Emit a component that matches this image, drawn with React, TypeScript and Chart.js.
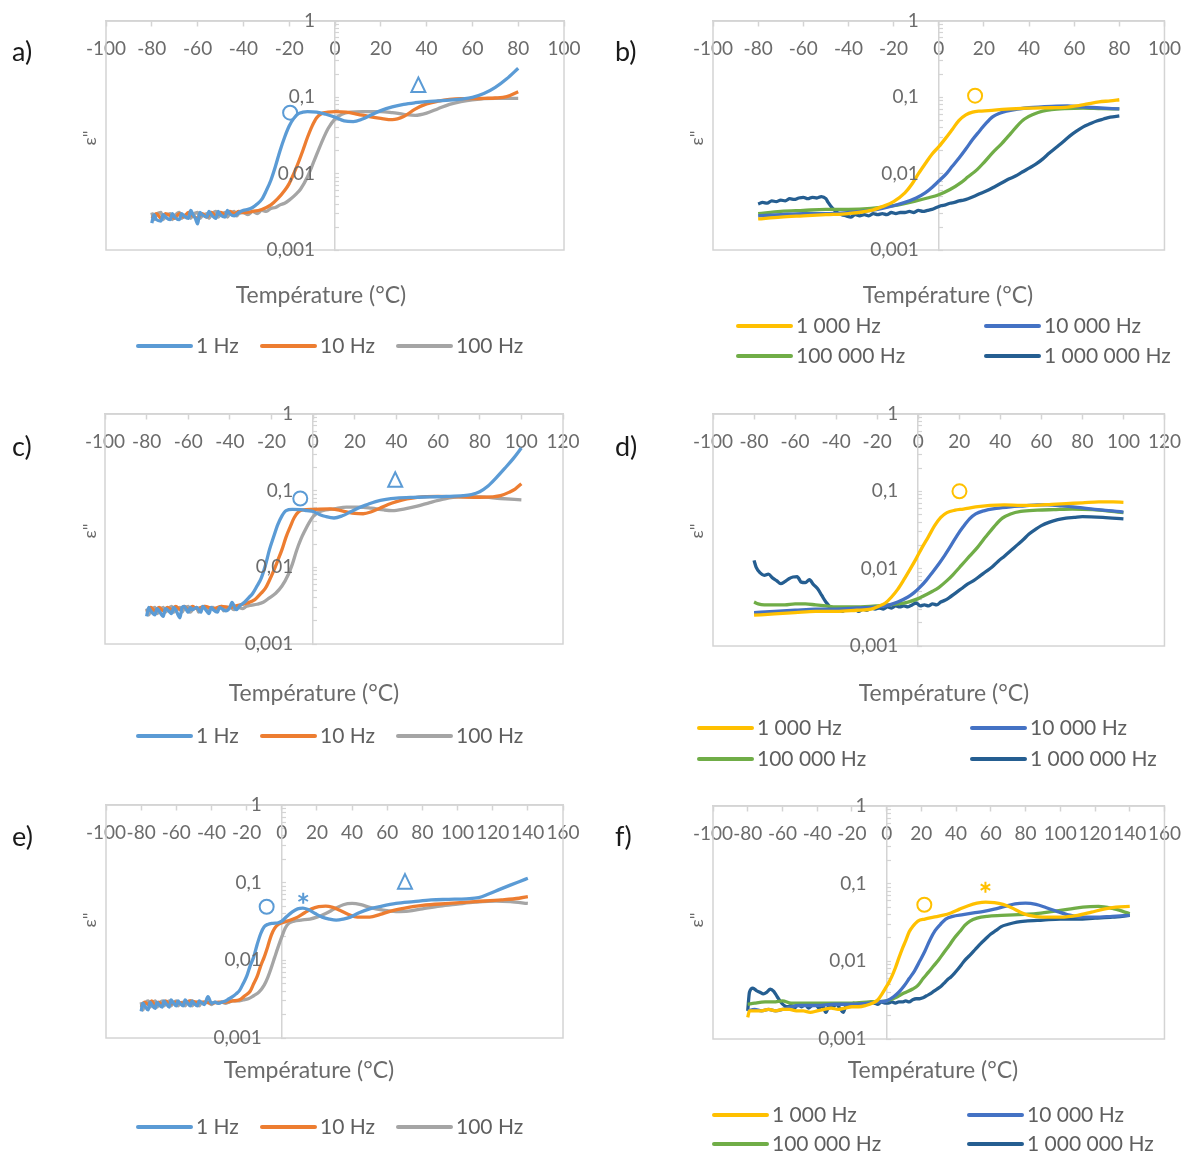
import React, { useEffect, useRef } from 'react';
import { Chart, registerables } from 'chart.js';

Chart.register(...registerables);
Chart.defaults.font.family = 'Lato';

type Pt = [number, number];

// ---------- tick labels ----------
const xLabels100 = ['-100', '-80', '-60', '-40', '-20', '0', '20', '40', '60', '80', '100'];
const xLabels120 = ['-100', '-80', '-60', '-40', '-20', '0', '20', '40', '60', '80', '100', '120'];
const xLabels160 = ['-100', '-80', '-60', '-40', '-20', '0', '20', '40', '60', '80', '100', '120', '140', '160'];
const yLabelValues = [1, 0.1, 0.01, 0.001];
const yLabelTexts = ['1', '0,1', '0,01', '0,001'];
const yDecades = [0.001, 0.01, 0.1];
const yMantissas = [1, 2, 3, 4, 5, 6, 7, 8, 9];

const lowLabels = ['1 Hz', '10 Hz', '100 Hz'];
const highLabels = ['1 000 Hz', '10 000 Hz', '100 000 Hz', '1 000 000 Hz'];

// ---------- panel a ----------
const a1Hz: Pt[] = [[-80,0.00225],[-79,0.0029],[-78,0.0025],[-76,0.0024],[-75,0.0029],[-74,0.0027],[-72,0.0025],[-71,0.0030],[-70,0.0027],[-68,0.0025],[-67,0.0030],[-66,0.0028],[-64,0.0026],[-63,0.0033],[-62,0.0029],[-61,0.0026],[-60,0.0022],[-59,0.0031],[-58,0.0029],[-56,0.0027],[-55,0.0032],[-54,0.0029],[-52,0.0026],[-51,0.0032],[-50,0.0029],[-48,0.0027],[-47,0.0033],[-46,0.0030],[-44,0.0028],[-42,0.0031],[-40,0.0033],[-38,0.0034],[-36,0.0036],[-34,0.0040],[-32,0.0046],[-30,0.0060],[-28,0.0082],[-26,0.0125],[-24,0.020],[-22,0.030],[-20,0.042],[-18,0.053],[-16,0.061],[-14,0.064],[-12,0.065],[-8,0.064],[-4,0.060],[0,0.055],[4,0.049],[8,0.048],[12,0.052],[16,0.059],[20,0.067],[25,0.075],[30,0.081],[35,0.085],[40,0.088],[45,0.090],[50,0.092],[55,0.095],[60,0.100],[65,0.112],[70,0.135],[75,0.175],[80,0.24]];
const a10Hz: Pt[] = [[-80,0.0026],[-78,0.0030],[-76,0.0026],[-74,0.0030],[-72,0.0028],[-70,0.0026],[-68,0.0030],[-66,0.0027],[-64,0.0031],[-62,0.0028],[-60,0.0026],[-58,0.0030],[-56,0.0027],[-54,0.0031],[-52,0.0028],[-50,0.0031],[-48,0.0029],[-46,0.0032],[-44,0.0030],[-42,0.0032],[-40,0.0031],[-36,0.0032],[-32,0.0034],[-28,0.0039],[-25,0.0047],[-22,0.0060],[-20,0.0074],[-18,0.0100],[-16,0.0140],[-14,0.0203],[-12,0.030],[-10,0.042],[-8,0.054],[-6,0.061],[-3,0.064],[0,0.065],[5,0.064],[10,0.060],[15,0.056],[20,0.053],[25,0.051],[30,0.056],[35,0.070],[40,0.082],[45,0.089],[50,0.094],[55,0.096],[60,0.096],[65,0.097],[70,0.098],[75,0.102],[80,0.118]];
const a100Hz: Pt[] = [[-80,0.0031],[-79,0.0025],[-78,0.0029],[-76,0.0031],[-75,0.0025],[-74,0.0028],[-72,0.0030],[-71,0.0025],[-70,0.0028],[-68,0.0031],[-67,0.0026],[-66,0.0028],[-64,0.0030],[-63,0.0026],[-62,0.0029],[-60,0.0031],[-59,0.0026],[-58,0.0028],[-56,0.0030],[-55,0.0026],[-54,0.0029],[-52,0.0032],[-51,0.0027],[-50,0.0029],[-48,0.0031],[-47,0.0027],[-46,0.0030],[-44,0.0032],[-43,0.0028],[-42,0.0030],[-40,0.0031],[-38,0.0029],[-36,0.0032],[-34,0.0030],[-32,0.0033],[-30,0.0032],[-28,0.0035],[-26,0.0036],[-24,0.0039],[-22,0.0041],[-20,0.0045],[-17,0.0054],[-15,0.0063],[-12,0.0091],[-9,0.015],[-6,0.025],[-3,0.039],[0,0.052],[3,0.060],[7,0.064],[12,0.065],[20,0.065],[25,0.063],[30,0.060],[35,0.058],[40,0.062],[45,0.071],[50,0.081],[55,0.088],[60,0.093],[70,0.097],[80,0.097]];

// ---------- panel b ----------
const b1kHz: Pt[] = [[-80,0.00255],[-70,0.0027],[-60,0.0028],[-50,0.0029],[-40,0.0030],[-30,0.0033],[-25,0.0037],[-20,0.0043],[-15,0.0056],[-12,0.0072],[-9,0.0100],[-6,0.0135],[-3,0.018],[0,0.0225],[3,0.029],[6,0.038],[9,0.050],[12,0.059],[15,0.064],[18,0.066],[22,0.067],[30,0.070],[40,0.072],[50,0.073],[56,0.074],[62,0.078],[66,0.082],[71,0.087],[76,0.090],[80,0.093]];
const b10kHz: Pt[] = [[-80,0.0028],[-70,0.0029],[-60,0.0030],[-50,0.0030],[-40,0.0031],[-30,0.0033],[-25,0.0035],[-20,0.0038],[-15,0.0042],[-10,0.0048],[-6,0.0056],[-3,0.0066],[0,0.0080],[3,0.0097],[6,0.0125],[9,0.016],[12,0.021],[15,0.028],[18,0.036],[21,0.046],[24,0.056],[27,0.062],[30,0.066],[35,0.070],[40,0.073],[50,0.076],[57,0.077],[63,0.075],[70,0.073],[80,0.0705]];
const b100kHz: Pt[] = [[-80,0.0030],[-70,0.0032],[-60,0.0033],[-50,0.0034],[-40,0.0034],[-30,0.0035],[-20,0.0038],[-10,0.0044],[-5,0.0048],[0,0.0053],[5,0.0062],[10,0.0077],[13,0.0091],[17,0.0113],[20,0.014],[24,0.019],[28,0.025],[32,0.034],[35,0.043],[38,0.052],[42,0.060],[46,0.066],[50,0.069],[56,0.071],[64,0.072],[72,0.071],[80,0.0705]];
const b1MHz: Pt[] = [[-80,0.0040],[-78,0.0042],[-76,0.0041],[-74,0.0044],[-72,0.0043],[-70,0.0045],[-68,0.0044],[-66,0.0047],[-64,0.0046],[-62,0.0048],[-60,0.0049],[-58,0.0047],[-56,0.0049],[-54,0.0048],[-52,0.0050],[-50,0.0047],[-49,0.0042],[-47,0.0035],[-45,0.0031],[-43,0.0029],[-41,0.0028],[-39,0.0027],[-37,0.0029],[-35,0.0028],[-33,0.0029],[-31,0.0028],[-29,0.0030],[-27,0.0029],[-25,0.0030],[-23,0.0029],[-21,0.0031],[-19,0.0030],[-17,0.0031],[-15,0.0031],[-13,0.0032],[-11,0.0031],[-9,0.0033],[-7,0.0032],[-5,0.0033],[-3,0.0034],[-1,0.0036],[1,0.0038],[3,0.0039],[5,0.0041],[7,0.0042],[9,0.0044],[11,0.0045],[13,0.0047],[16,0.0051],[19,0.0056],[22,0.0061],[25,0.0068],[28,0.0076],[31,0.0085],[34,0.0093],[37,0.0105],[40,0.0118],[43,0.0133],[46,0.0155],[49,0.0186],[52,0.022],[55,0.026],[58,0.031],[61,0.036],[64,0.041],[67,0.045],[70,0.049],[73,0.052],[76,0.055],[80,0.057]];

// ---------- panel c ----------
const c1Hz: Pt[] = [[-80,0.0023],[-79,0.0030],[-78,0.0027],[-76,0.0024],[-75,0.0029],[-74,0.0027],[-72,0.0023],[-71,0.0029],[-70,0.0028],[-68,0.0025],[-67,0.0030],[-66,0.0028],[-64,0.0022],[-63,0.0030],[-62,0.0031],[-60,0.0026],[-59,0.0030],[-58,0.0028],[-56,0.0030],[-54,0.0026],[-53,0.0031],[-52,0.0029],[-50,0.0025],[-49,0.0030],[-48,0.0028],[-46,0.0026],[-45,0.0030],[-44,0.0029],[-42,0.0027],[-40,0.0030],[-39,0.0035],[-37,0.0028],[-35,0.0032],[-33,0.0035],[-31,0.0040],[-29,0.0046],[-27,0.0057],[-25,0.0072],[-23,0.0105],[-21,0.017],[-19,0.025],[-17,0.036],[-15,0.047],[-13,0.055],[-10,0.057],[-6,0.0565],[-3,0.055],[0,0.0535],[3,0.049],[6,0.046],[10,0.044],[14,0.047],[18,0.053],[22,0.060],[26,0.066],[30,0.072],[35,0.077],[40,0.080],[48,0.082],[56,0.083],[64,0.084],[72,0.086],[76,0.089],[80,0.097],[84,0.115],[88,0.148],[92,0.195],[96,0.26],[100,0.36]];
const c10Hz: Pt[] = [[-80,0.0026],[-78,0.0030],[-76,0.0027],[-74,0.0030],[-72,0.0027],[-70,0.0030],[-68,0.0028],[-66,0.0031],[-64,0.0028],[-62,0.0031],[-60,0.0028],[-58,0.0031],[-56,0.0029],[-52,0.0031],[-48,0.0029],[-44,0.0031],[-40,0.0030],[-36,0.0032],[-32,0.0034],[-28,0.0038],[-25,0.0046],[-23,0.0053],[-21,0.0068],[-19,0.0090],[-17,0.0123],[-15,0.017],[-13,0.025],[-11,0.034],[-9,0.045],[-7,0.053],[-5,0.056],[0,0.057],[8,0.058],[12,0.056],[16,0.053],[20,0.0505],[24,0.050],[28,0.053],[32,0.059],[36,0.066],[40,0.072],[45,0.078],[50,0.082],[60,0.084],[70,0.083],[80,0.082],[86,0.083],[90,0.086],[94,0.095],[97,0.105],[100,0.123]];
const c100Hz: Pt[] = [[-80,0.0029],[-79,0.0024],[-78,0.0027],[-76,0.0030],[-75,0.0025],[-74,0.0027],[-72,0.0030],[-71,0.0026],[-70,0.0028],[-68,0.0031],[-67,0.0026],[-66,0.0028],[-64,0.0030],[-63,0.0026],[-62,0.0029],[-60,0.0031],[-59,0.0026],[-58,0.0028],[-56,0.0030],[-55,0.0026],[-54,0.0029],[-52,0.0031],[-51,0.0027],[-50,0.0029],[-48,0.0030],[-47,0.0027],[-46,0.0029],[-44,0.0031],[-43,0.0027],[-42,0.0030],[-40,0.0030],[-38,0.0028],[-36,0.0030],[-34,0.0029],[-32,0.0031],[-30,0.0032],[-27,0.0033],[-24,0.0035],[-21,0.0040],[-18,0.0046],[-15,0.0057],[-12,0.0080],[-10,0.011],[-8,0.0165],[-6,0.023],[-4,0.030],[-2,0.038],[0,0.046],[3,0.053],[6,0.056],[10,0.058],[16,0.061],[22,0.061],[28,0.059],[34,0.056],[38,0.055],[44,0.058],[50,0.063],[56,0.070],[62,0.077],[70,0.083],[80,0.083],[90,0.079],[100,0.076]];

// ---------- panel d ----------
const d1kHz: Pt[] = [[-80,0.0025],[-70,0.0026],[-60,0.0027],[-50,0.0028],[-40,0.0028],[-30,0.0029],[-23,0.0030],[-19,0.0033],[-16,0.0036],[-13,0.0043],[-10,0.0054],[-7,0.0072],[-4,0.0098],[-1,0.0135],[2,0.019],[5,0.026],[8,0.036],[11,0.046],[14,0.053],[18,0.057],[22,0.059],[28,0.063],[35,0.066],[42,0.067],[50,0.066],[57,0.066],[65,0.068],[72,0.0695],[80,0.071],[88,0.073],[95,0.073],[100,0.072]];
const d10kHz: Pt[] = [[-80,0.0027],[-70,0.0028],[-60,0.0029],[-50,0.0030],[-40,0.0030],[-30,0.0031],[-20,0.0032],[-14,0.0034],[-10,0.0037],[-5,0.0043],[-2,0.0049],[1,0.0058],[4,0.0071],[7,0.0090],[10,0.0115],[13,0.015],[16,0.020],[19,0.027],[22,0.035],[25,0.044],[28,0.051],[32,0.056],[38,0.060],[45,0.063],[52,0.065],[58,0.067],[63,0.067],[70,0.065],[80,0.061],[90,0.057],[100,0.054]];
const d100kHz: Pt[] = [[-80,0.0037],[-78,0.0035],[-75,0.0034],[-70,0.0034],[-65,0.0034],[-60,0.0035],[-55,0.0035],[-50,0.0034],[-45,0.0033],[-40,0.0032],[-30,0.0032],[-20,0.0033],[-10,0.0035],[-5,0.0037],[0,0.0041],[3,0.0045],[7,0.0051],[10,0.0057],[14,0.0070],[17,0.0084],[21,0.011],[25,0.0145],[29,0.019],[33,0.026],[37,0.035],[41,0.045],[45,0.051],[50,0.055],[58,0.057],[66,0.058],[75,0.059],[85,0.058],[92,0.056],[100,0.053]];
const d1MHz: Pt[] = [[-80,0.0128],[-79,0.0105],[-77,0.0088],[-75,0.0082],[-73,0.0085],[-71,0.0076],[-69,0.0070],[-67,0.0064],[-65,0.0068],[-63,0.0074],[-61,0.0078],[-59,0.0079],[-57,0.0067],[-55,0.0066],[-53,0.0072],[-51,0.0062],[-49,0.0055],[-47,0.0045],[-45,0.0037],[-43,0.0032],[-41,0.0028],[-39,0.0029],[-37,0.0028],[-35,0.0030],[-33,0.0029],[-31,0.0030],[-29,0.0028],[-27,0.0030],[-25,0.0029],[-23,0.0031],[-21,0.0030],[-19,0.0031],[-17,0.0030],[-15,0.0032],[-13,0.0031],[-11,0.0033],[-9,0.0032],[-7,0.0033],[-5,0.0032],[-3,0.0034],[-1,0.0036],[1,0.0033],[3,0.0034],[5,0.0033],[7,0.0035],[9,0.0034],[11,0.0037],[13,0.0039],[15,0.0042],[18,0.0048],[21,0.0055],[24,0.0063],[27,0.0070],[30,0.0080],[33,0.0092],[36,0.0105],[39,0.0125],[42,0.0145],[45,0.017],[48,0.020],[51,0.0235],[54,0.028],[57,0.032],[60,0.036],[64,0.040],[68,0.043],[72,0.045],[76,0.046],[80,0.047],[90,0.046],[100,0.044]];

// ---------- panel e ----------
const e1Hz: Pt[] = [[-80,0.0022],[-79,0.0028],[-78,0.0026],[-76,0.0023],[-75,0.0029],[-74,0.0027],[-72,0.0024],[-71,0.0029],[-70,0.0027],[-68,0.0025],[-67,0.0030],[-66,0.0028],[-64,0.0025],[-63,0.0031],[-62,0.0029],[-60,0.0026],[-59,0.0030],[-58,0.0028],[-56,0.0026],[-55,0.0031],[-54,0.0029],[-52,0.0026],[-51,0.0030],[-50,0.0028],[-48,0.0026],[-47,0.0030],[-46,0.0029],[-44,0.0027],[-42,0.0034],[-40,0.0028],[-38,0.0029],[-36,0.0028],[-34,0.0029],[-32,0.0030],[-30,0.0032],[-28,0.0034],[-26,0.0037],[-24,0.0041],[-22,0.0050],[-20,0.0062],[-18,0.0085],[-16,0.011],[-14,0.016],[-12,0.022],[-10,0.027],[-8,0.029],[-5,0.030],[-2,0.0305],[0,0.032],[3,0.037],[6,0.042],[9,0.046],[12,0.047],[15,0.045],[19,0.040],[23,0.036],[27,0.034],[31,0.033],[35,0.034],[39,0.036],[44,0.041],[50,0.046],[57,0.050],[65,0.054],[75,0.057],[85,0.060],[95,0.061],[105,0.062],[112,0.064],[118,0.072],[124,0.082],[130,0.093],[135,0.103],[140,0.114]];
const e10Hz: Pt[] = [[-80,0.0025],[-78,0.0029],[-76,0.0027],[-74,0.0030],[-72,0.0026],[-70,0.0029],[-68,0.0027],[-66,0.0030],[-64,0.0027],[-60,0.0029],[-56,0.0028],[-52,0.0030],[-48,0.0029],[-44,0.0029],[-40,0.0028],[-36,0.0029],[-32,0.0029],[-28,0.0030],[-24,0.0031],[-21,0.0035],[-18,0.0040],[-16,0.0050],[-14,0.0062],[-12,0.0085],[-10,0.011],[-8,0.015],[-6,0.021],[-4,0.026],[-2,0.029],[1,0.031],[5,0.033],[9,0.036],[13,0.041],[17,0.046],[21,0.049],[25,0.050],[29,0.048],[33,0.044],[38,0.039],[43,0.036],[50,0.036],[56,0.039],[62,0.043],[70,0.047],[80,0.051],[95,0.054],[110,0.057],[125,0.060],[135,0.063],[140,0.066]];
const e100Hz: Pt[] = [[-80,0.0029],[-79,0.0023],[-78,0.0027],[-76,0.0030],[-75,0.0025],[-74,0.0027],[-72,0.0030],[-71,0.0025],[-70,0.0027],[-68,0.0030],[-67,0.0026],[-66,0.0028],[-64,0.0030],[-63,0.0026],[-62,0.0028],[-60,0.0030],[-59,0.0026],[-58,0.0028],[-56,0.0029],[-55,0.0026],[-54,0.0028],[-52,0.0030],[-51,0.0026],[-50,0.0028],[-48,0.0029],[-47,0.0026],[-46,0.0028],[-44,0.0029],[-42,0.0029],[-40,0.0027],[-38,0.0029],[-36,0.0028],[-34,0.0029],[-32,0.0028],[-30,0.0029],[-28,0.0030],[-25,0.0030],[-22,0.0031],[-19,0.0032],[-16,0.0035],[-13,0.0039],[-10,0.0048],[-8,0.0060],[-6,0.0080],[-4,0.011],[-2,0.015],[0,0.020],[2,0.026],[4,0.030],[7,0.032],[11,0.033],[16,0.034],[20,0.036],[25,0.040],[30,0.046],[35,0.052],[40,0.054],[45,0.052],[50,0.048],[57,0.0445],[65,0.0425],[72,0.043],[80,0.046],[90,0.050],[100,0.053],[110,0.056],[122,0.058],[130,0.057],[140,0.054]];

// ---------- panel f ----------
const f1kHz: Pt[] = [[-80,0.0019],[-79,0.0023],[-76,0.0023],[-72,0.0023],[-68,0.0024],[-64,0.0023],[-60,0.0024],[-56,0.0024],[-52,0.0023],[-48,0.0023],[-44,0.0022],[-40,0.0023],[-36,0.0024],[-32,0.0025],[-28,0.0024],[-24,0.0025],[-20,0.0026],[-16,0.0026],[-12,0.0027],[-8,0.0029],[-5,0.0032],[-3,0.0037],[-1,0.0044],[1,0.0052],[3,0.0064],[5,0.0082],[7,0.011],[9,0.0145],[11,0.0185],[13,0.024],[15,0.028],[18,0.033],[22,0.035],[27,0.037],[32,0.039],[37,0.042],[42,0.047],[47,0.052],[52,0.056],[57,0.058],[62,0.057],[67,0.054],[72,0.049],[77,0.043],[82,0.039],[90,0.037],[100,0.037],[110,0.039],[118,0.043],[125,0.047],[132,0.050],[140,0.051]];
const f10kHz: Pt[] = [[-80,0.0023],[-76,0.0024],[-72,0.0023],[-68,0.0024],[-64,0.0023],[-60,0.0024],[-55,0.0026],[-50,0.0027],[-40,0.0027],[-30,0.0028],[-20,0.0028],[-10,0.0029],[-5,0.0030],[0,0.0031],[4,0.0035],[7,0.0040],[10,0.0048],[13,0.0060],[16,0.0075],[19,0.0100],[22,0.0135],[25,0.019],[28,0.025],[31,0.030],[34,0.035],[38,0.038],[44,0.040],[50,0.042],[56,0.044],[62,0.047],[68,0.051],[74,0.055],[80,0.056],[86,0.054],[92,0.049],[98,0.044],[104,0.040],[112,0.037],[120,0.037],[130,0.038],[140,0.039]];
const f100kHz: Pt[] = [[-80,0.0028],[-76,0.0029],[-70,0.0030],[-65,0.0030],[-60,0.0031],[-55,0.0029],[-50,0.0029],[-40,0.0029],[-30,0.0029],[-20,0.0029],[-10,0.0030],[0,0.0031],[5,0.0034],[10,0.0039],[15,0.0044],[18,0.0049],[21,0.0060],[24,0.0072],[27,0.0087],[30,0.0105],[33,0.013],[36,0.016],[39,0.020],[42,0.024],[45,0.029],[48,0.033],[52,0.036],[58,0.038],[66,0.039],[76,0.040],[86,0.041],[96,0.044],[105,0.047],[113,0.050],[122,0.051],[130,0.048],[136,0.044],[140,0.041]];
const f1MHz: Pt[] = [[-80,0.0023],[-79,0.0040],[-77,0.0045],[-75,0.0042],[-73,0.0040],[-71,0.0038],[-69,0.0040],[-67,0.0044],[-65,0.0041],[-63,0.0035],[-61,0.0030],[-59,0.0027],[-57,0.0026],[-55,0.0027],[-53,0.0025],[-51,0.0028],[-49,0.0026],[-47,0.0028],[-45,0.0025],[-43,0.0027],[-41,0.0028],[-39,0.0025],[-37,0.0027],[-35,0.0022],[-33,0.0027],[-31,0.0026],[-29,0.0028],[-27,0.0025],[-25,0.0022],[-23,0.0028],[-21,0.0027],[-19,0.0029],[-17,0.0027],[-15,0.0028],[-13,0.0029],[-11,0.0028],[-9,0.0030],[-7,0.0029],[-5,0.0028],[-3,0.0030],[-1,0.0029],[1,0.0029],[3,0.0030],[5,0.0029],[7,0.0030],[9,0.0030],[11,0.0031],[13,0.0030],[15,0.0032],[17,0.0033],[19,0.0033],[21,0.0034],[23,0.0036],[25,0.0038],[27,0.0041],[29,0.0044],[31,0.0047],[33,0.0052],[35,0.0058],[37,0.0063],[39,0.0070],[41,0.0079],[43,0.0090],[45,0.0103],[48,0.0120],[51,0.0142],[54,0.0168],[57,0.0195],[60,0.0225],[63,0.025],[66,0.028],[70,0.030],[75,0.032],[80,0.033],[90,0.034],[100,0.035],[110,0.035],[120,0.036],[130,0.037],[140,0.039]];

// ---------- annotation marks (data coordinates) ----------
type Mark = { kind: 'circle' | 'triangle' | 'star'; x: number; y: number; color: string };

const C1 = '#5B9BD5';
const C10 = '#ED7D31';
const C100 = '#A5A5A5';
const C1k = '#FFC000';
const C10k = '#4472C4';
const C100k = '#70AD47';
const C1M = '#255E91';

const marksA: Mark[] = [{ kind: 'circle', x: -19.6, y: 0.063, color: C1 }, { kind: 'triangle', x: 36.4, y: 0.145, color: C1 }];
const marksB: Mark[] = [{ kind: 'circle', x: 16.1, y: 0.105, color: C1k }];
const marksC: Mark[] = [{ kind: 'circle', x: -6.2, y: 0.079, color: C1 }, { kind: 'triangle', x: 39.4, y: 0.139, color: C1 }];
const marksD: Mark[] = [{ kind: 'circle', x: 20.1, y: 0.1, color: C1k }];
const marksE: Mark[] = [{ kind: 'circle', x: -8.6, y: 0.049, color: C1 }, { kind: 'star', x: 12.2, y: 0.063, color: C1 }, { kind: 'triangle', x: 70.1, y: 0.103, color: C1 }];
const marksF: Mark[] = [{ kind: 'circle', x: 21.7, y: 0.0535, color: C1k }, { kind: 'star', x: 56.9, y: 0.09, color: C1k }];

// ---------- styling ----------
const AXIS_COLOR = '#d4d4d4';
const TEXT_COLOR = '#6b6b6b';
const LEGEND_TEXT = '#5f5f5f';

interface Series { label: string; color: string; data: Pt[] }
interface Panel {
  letter: string;
  left: number; top: number; w: number; h: number;
  area: { l: number; t: number; r: number; b: number };
  xMax: number;
  xLabels: string[];
  series: Series[];
  marks: Mark[];
  letterPos: [number, number];
  titlePos: [number, number];
  epsPos: [number, number];
  legend: [number, number][];
}

const lowSeries = (d1: Pt[], d10: Pt[], d100: Pt[]): Series[] => [
  { label: lowLabels[0], color: C1, data: d1 },
  { label: lowLabels[1], color: C10, data: d10 },
  { label: lowLabels[2], color: C100, data: d100 },
];
const highSeries = (a: Pt[], b: Pt[], c: Pt[], d: Pt[]): Series[] => [
  { label: highLabels[0], color: C1k, data: a },
  { label: highLabels[1], color: C10k, data: b },
  { label: highLabels[2], color: C100k, data: c },
  { label: highLabels[3], color: C1M, data: d },
];

const PANELS: Panel[] = [
  {
    letter: 'a)', left: 0, top: 0, w: 600, h: 390,
    area: { l: 106, t: 21, r: 564, b: 250 }, xMax: 100, xLabels: xLabels100,
    series: lowSeries(a1Hz, a10Hz, a100Hz), marks: marksA,
    letterPos: [12, 52], titlePos: [321, 296], epsPos: [90, 138],
    legend: [[138, 346], [262, 346], [398, 346]],
  },
  {
    letter: 'b)', left: 600, top: 0, w: 592, h: 390,
    area: { l: 113, t: 21, r: 573, b: 250 }, xMax: 100, xLabels: xLabels100,
    series: highSeries(b1kHz, b10kHz, b100kHz, b1MHz), marks: marksB,
    letterPos: [15, 52], titlePos: [348, 296], epsPos: [97, 138],
    legend: [[138, 326], [386, 326], [138, 356], [386, 356]],
  },
  {
    letter: 'c)', left: 0, top: 390, w: 600, h: 390,
    area: { l: 105, t: 24, r: 563, b: 254 }, xMax: 120, xLabels: xLabels120,
    series: lowSeries(c1Hz, c10Hz, c100Hz), marks: marksC,
    letterPos: [12, 57], titlePos: [314, 304], epsPos: [90, 141],
    legend: [[138, 346], [262, 346], [398, 346]],
  },
  {
    letter: 'd)', left: 600, top: 390, w: 592, h: 390,
    area: { l: 113, t: 24, r: 573, b: 256 }, xMax: 120, xLabels: xLabels120,
    series: highSeries(d1kHz, d10kHz, d100kHz, d1MHz), marks: marksD,
    letterPos: [15, 57], titlePos: [344, 304], epsPos: [97, 141],
    legend: [[99, 338], [372, 338], [99, 369], [372, 369]],
  },
  {
    letter: 'e)', left: 0, top: 780, w: 600, h: 371,
    area: { l: 106, t: 25, r: 563, b: 258 }, xMax: 160, xLabels: xLabels160,
    series: lowSeries(e1Hz, e10Hz, e100Hz), marks: marksE,
    letterPos: [12, 57], titlePos: [309, 291], epsPos: [90, 140],
    legend: [[138, 347], [262, 347], [398, 347]],
  },
  {
    letter: 'f)', left: 600, top: 780, w: 592, h: 371,
    area: { l: 113, t: 26, r: 573, b: 259 }, xMax: 160, xLabels: xLabels160,
    series: highSeries(f1kHz, f10kHz, f100kHz, f1MHz), marks: marksF,
    letterPos: [15, 57], titlePos: [333, 291], epsPos: [97, 140],
    legend: [[114, 335], [369, 335], [114, 364], [369, 364]],
  },
];

const yTickValues: number[] = [];
yDecades.forEach((d) => yMantissas.forEach((m) => yTickValues.push(+(d * m).toPrecision(3))));
yTickValues.push(1);

function makeDecor(p: Panel) {
  return {
    id: 'decor',
    beforeDatasetsDraw(chart: any) {
      const { ctx, chartArea: ca } = chart;
      ctx.save();
      ctx.strokeStyle = AXIS_COLOR;
      ctx.lineWidth = 1.5;
      ctx.strokeRect(ca.left, ca.top, ca.right - ca.left, ca.bottom - ca.top);
      ctx.restore();
    },
    afterDraw(chart: any) {
      const { ctx } = chart;
      const xs = chart.scales.x;
      const ys = chart.scales.y;
      ctx.save();
      const axisX = xs.getPixelForValue(0);
      ctx.font = '19px Lato';
      ctx.fillStyle = TEXT_COLOR;
      ctx.textAlign = 'right';
      ctx.textBaseline = 'middle';
      yLabelValues.forEach((v, i) => ctx.fillText(yLabelTexts[i], axisX - 20, ys.getPixelForValue(v)));

      ctx.font = '23px Lato';
      ctx.textAlign = 'center';
      ctx.fillText('Température (°C)', p.titlePos[0], p.titlePos[1]);

      ctx.save();
      ctx.translate(p.epsPos[0], p.epsPos[1]);
      ctx.rotate(-Math.PI / 2);
      ctx.font = '18px Lato';
      ctx.fillText('ε"', 0, 0);
      ctx.restore();

      ctx.font = '27px Lato';
      ctx.fillStyle = '#1a1a1a';
      ctx.textAlign = 'left';
      ctx.fillText(p.letter, p.letterPos[0], p.letterPos[1]);

      ctx.font = '21px Lato';
      p.series.forEach((s, i) => {
        const [lx, ly] = p.legend[i];
        ctx.strokeStyle = s.color;
        ctx.lineWidth = 4;
        ctx.lineCap = 'round';
        ctx.beginPath();
        ctx.moveTo(lx, ly);
        ctx.lineTo(lx + 53, ly);
        ctx.stroke();
        ctx.fillStyle = LEGEND_TEXT;
        ctx.textAlign = 'left';
        ctx.fillText(s.label, lx + 58, ly);
      });

      p.marks.forEach((m) => {
        const cx = xs.getPixelForValue(m.x);
        const cy = ys.getPixelForValue(m.y);
        ctx.strokeStyle = m.color;
        ctx.lineWidth = 2;
        ctx.lineCap = 'butt';
        ctx.beginPath();
        if (m.kind === 'circle') {
          ctx.arc(cx, cy, 7, 0, Math.PI * 2);
        } else if (m.kind === 'triangle') {
          ctx.moveTo(cx, cy - 7.5);
          ctx.lineTo(cx + 7, cy + 7);
          ctx.lineTo(cx - 7, cy + 7);
          ctx.closePath();
        } else {
          for (let k = 0; k < 3; k++) {
            const ang = Math.PI / 2 + (k * Math.PI) / 3;
            ctx.moveTo(cx + Math.cos(ang) * 5.5, cy + Math.sin(ang) * 5.5);
            ctx.lineTo(cx - Math.cos(ang) * 5.5, cy - Math.sin(ang) * 5.5);
          }
        }
        ctx.stroke();
      });
      ctx.restore();
    },
  };
}

function PanelChart({ p }: { p: Panel }) {
  const ref = useRef<HTMLCanvasElement>(null);
  useEffect(() => {
    const canvas = ref.current;
    if (!canvas) return;
    const chart = new Chart(canvas, {
      type: 'line',
      data: {
        datasets: p.series.map((s) => ({
          label: s.label,
          data: s.data.map(([x, y]) => ({ x, y })),
          borderColor: s.color,
          backgroundColor: s.color,
          borderWidth: 3.3,
          pointRadius: 0,
          cubicInterpolationMode: 'monotone',
          fill: false,
        })),
      },
      options: {
        animation: false,
        responsive: false,
        devicePixelRatio: 1,
        events: [],
        layout: { padding: { left: p.area.l, top: p.area.t, right: p.w - p.area.r, bottom: p.h - p.area.b } },
        plugins: { legend: { display: false }, tooltip: { enabled: false }, title: { display: false } },
        scales: {
          x: {
            type: 'linear',
            min: -100,
            max: p.xMax,
            position: { y: 1 },
            ticks: {
              stepSize: 20,
              autoSkip: false,
              maxRotation: 0,
              minRotation: 0,
              padding: 11,
              color: TEXT_COLOR,
              font: { family: 'Lato', size: 19 },
              callback: (_v: any, i: number) => p.xLabels[i],
            },
            grid: { display: true, drawOnChartArea: false, drawTicks: true, tickLength: 5, color: AXIS_COLOR, tickWidth: 1.5 },
            border: { display: true, color: AXIS_COLOR, width: 1.5 },
          },
          y: {
            type: 'logarithmic',
            min: 0.001,
            max: 1,
            position: { x: 0 },
            afterBuildTicks: (scale: any) => {
              scale.ticks = yTickValues.map((v) => ({ value: v }));
            },
            ticks: { display: false },
            grid: { display: true, drawOnChartArea: false, drawTicks: true, tickLength: -5, color: AXIS_COLOR, tickWidth: 1.2 },
            border: { display: true, color: AXIS_COLOR, width: 1.5 },
          },
        },
      } as any,
      plugins: [makeDecor(p)],
    } as any);
    return () => chart.destroy();
  }, [p]);
  return (
    <canvas
      ref={ref}
      width={p.w}
      height={p.h}
      style={{ position: 'absolute', left: p.left, top: p.top, width: p.w, height: p.h }}
    />
  );
}

export default function App() {
  return (
    <div style={{ position: 'absolute', left: 0, top: 0, width: 1192, height: 1151, background: '#fff', overflow: 'hidden' }}>
      {PANELS.map((p) => (
        <PanelChart key={p.letter} p={p} />
      ))}
    </div>
  );
}
